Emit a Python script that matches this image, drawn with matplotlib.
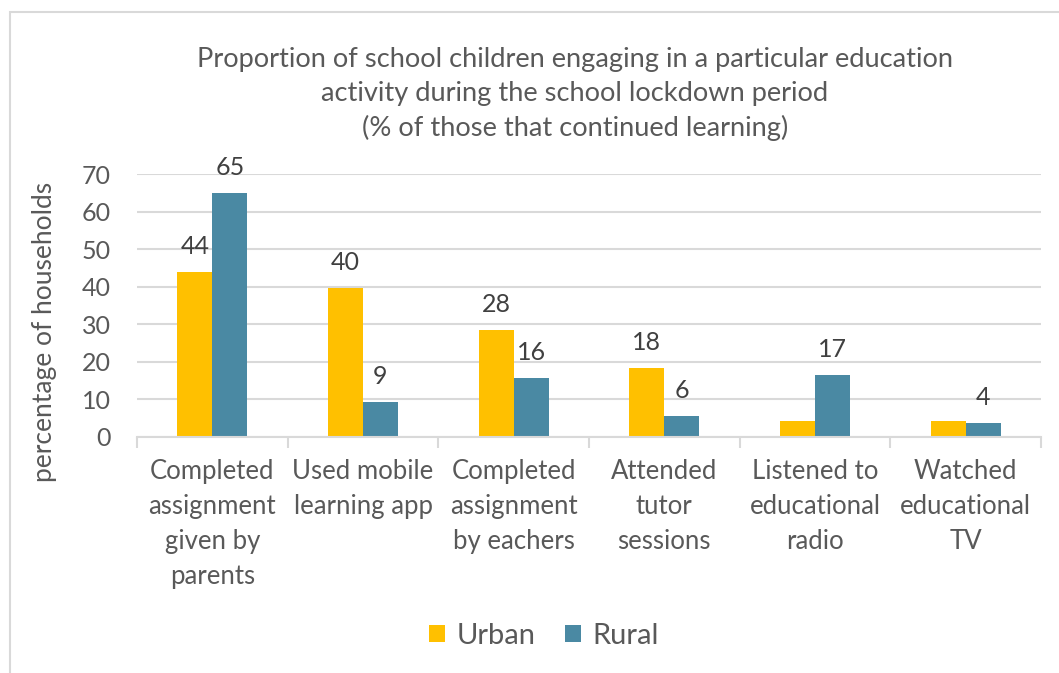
import matplotlib.pyplot as plt
import matplotlib.patches as mpatches
import numpy as np

plt.rcParams['font.family'] = ['Lato', 'DejaVu Sans']

categories = ['Completed\nassignment\ngiven by\nparents', 'Used mobile\nlearning app',
              'Completed\nassignment\nby eachers', 'Attended\ntutor\nsessions',
              'Listened to\neducational\nradio', 'Watched\neducational\nTV']
urban = [44.0, 39.7, 28.5, 18.3, 4.3, 4.3]
rural = [65.0, 9.3, 15.7, 5.7, 16.5, 3.7]
urban_labels = ['44', '40', '28', '18', '', '']
rural_labels = ['65', '9', '16', '6', '17', '4']

c_urban = '#FFC000'
c_rural = '#4A89A3'
grid_c = '#D9D9D9'
txt_c = '#595959'

fig = plt.figure(figsize=(10.59, 6.73), dpi=100)
ax = fig.add_axes([137/1059, 1-437/673, (1041-137)/1059, (437-174)/673])

x = np.arange(len(categories))
w = 0.232
b1 = ax.bar(x - w/2, urban, w, color=c_urban, label='Urban', zorder=3)
b2 = ax.bar(x + w/2, rural, w, color=c_rural, label='Rural', zorder=3)

for bars, labs in ((b1, urban_labels), (b2, rural_labels)):
    for bar, lab in zip(bars, labs):
        if lab:
            ax.annotate(lab, (bar.get_x() + bar.get_width()/2, bar.get_height()),
                        xytext=(0, 13), textcoords='offset points', ha='center',
                        va='baseline', fontsize=18, color='#404040')

ax.set_xlim(-0.5, len(categories) - 0.5)
ax.set_ylim(0, 70)
ax.set_yticks(range(0, 71, 10))
ax.yaxis.grid(True, color=grid_c, lw=1.5, zorder=0)
ax.set_axisbelow(True)
for s in ['top', 'right', 'left']:
    ax.spines[s].set_visible(False)
ax.spines['bottom'].set_color(grid_c)
ax.spines['bottom'].set_linewidth(1.5)
ax.spines['bottom'].set_zorder(4)

ax.set_xticks(x)
ax.set_xticklabels(categories, fontsize=18.5, color=txt_c, linespacing=1.49)
ax.set_xticks(np.arange(-0.5, len(categories)), minor=True)
ax.tick_params(axis='x', which='major', length=0, pad=16)
ax.tick_params(axis='x', which='minor', length=8, width=1.5, color=grid_c)
ax.tick_params(axis='y', length=0, pad=19, labelsize=18, labelcolor=txt_c)

ax.set_ylabel('percentage of households', fontsize=19, color=txt_c)
ax.yaxis.set_label_coords(-(137-57)/904, (437-332)/263)

fig.text(575/1059, 1-94/673,
         'Proportion of school children engaging in a particular education\n'
         'activity during the school lockdown period\n'
         '(% of those that continued learning)',
         ha='center', va='center', fontsize=19.6, color=txt_c, linespacing=1.44)

ax.legend(loc='center', bbox_to_anchor=(544/1059, 1-636/673),
          bbox_transform=fig.transFigure, ncol=2, frameon=False, fontsize=21,
          labelcolor=txt_c, handlelength=0.55, handleheight=0.55, handletextpad=0.4,
          columnspacing=1.0)

fig.patches.append(mpatches.Rectangle((10/1059, -0.1), 1.2, 1.1 - 12/673,
                                      transform=fig.transFigure, fill=False,
                                      edgecolor='#D9D9D9', lw=1.5))

fig.savefig('out.png', dpi=100)
